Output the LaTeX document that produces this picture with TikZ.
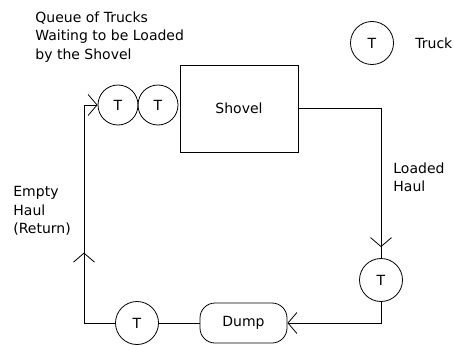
\documentclass[tikz,border=0pt]{standalone}
\usepackage{fontspec}
\setmainfont{DejaVu Sans}
\usetikzlibrary{arrows.meta,decorations.markings}
\begin{document}
\begin{tikzpicture}[x=1pt,y=-1pt,line width=0.8pt,
  barb/.tip={Straight Barb[length=9pt,width=21pt,line width=0.8pt]},
  truck/.style={circle,draw,minimum size=43pt,inner sep=0pt,font=\fontsize{14}{17}\selectfont},
  qtruck/.style={truck,minimum size=40pt},
  lbl/.style={font=\fontsize{14}{18.5}\selectfont,align=left,inner sep=0pt,anchor=west},
  boxtext/.style={font=\fontsize{14}{17}\selectfont},
  midarrow/.style={decoration={markings,mark=at position #1 with {\arrow{barb}}},postaction={decorate}}
]
\useasboundingbox (0,0) rectangle (454,345);
% labels
\node[lbl] (qlabel) at (35,37) {Queue of Trucks\\Waiting to be Loaded\\by the Shovel};
\node[lbl] (loadlbl) at (393,177.5) {Loaded\\Haul};
\node[lbl] (emptylbl) at (13,211) {Empty\\Haul\\(Return)};
% legend
\node[truck] (legend) at (372,43) {T};
\node[lbl] (legendtext) at (415,43) {Truck};
% main nodes
\node[draw,minimum width=118pt,minimum height=87pt,inner sep=0pt,boxtext] (shovel) at (239,108.5) {Shovel};
\node[qtruck] (q1) at (118,105) {T};
\node[qtruck] (q2) at (158,105) {T};
\node[truck] (t3) at (381,280) {T};
\node[draw,rounded corners=15pt,minimum width=87pt,minimum height=40pt,boxtext] (dump) at (243.5,323) {Dump};
\node[truck] (t4) at (137,323) {T};
\coordinate (ret) at (84,105);
% connectors
\draw[midarrow=-11pt] (shovel.east) -| (t3.north);
\draw[-{barb}] (t3.south) |- (dump.east);
\draw (dump.west) -- (t4.east);
\draw[-{barb},midarrow=101.5pt] (t4.west) -| (ret) -- (q1.west);
\end{tikzpicture}
\end{document}
